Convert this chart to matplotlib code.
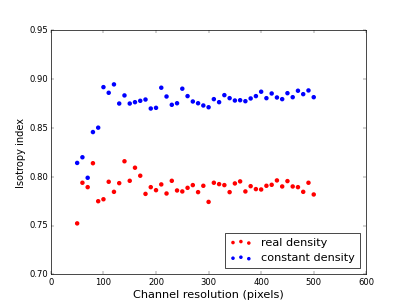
import matplotlib
matplotlib.use("Agg")
import matplotlib.pyplot as plt

plt.style.use('classic')

resolution = list(range(50, 501, 10))

real_density = [0.7523, 0.7939, 0.7894, 0.8139, 0.7750, 0.7770, 0.7949, 0.7846, 0.7935, 0.8159,
                0.7959, 0.8093, 0.8011, 0.7825, 0.7894, 0.7863, 0.7922, 0.7829, 0.7959, 0.7860,
                0.7850, 0.7887, 0.7915, 0.7843, 0.7908, 0.7743, 0.7939, 0.7925, 0.7915, 0.7843,
                0.7932, 0.7953, 0.7850, 0.7904, 0.7874, 0.7870, 0.7908, 0.7918, 0.7963, 0.7901,
                0.7956, 0.7901, 0.7894, 0.7846, 0.7939, 0.7819]

constant_density = [0.8142, 0.8200, 0.7990, 0.8458, 0.8503, 0.8918, 0.8860, 0.8946, 0.8750, 0.8833,
                    0.8750, 0.8764, 0.8778, 0.8791, 0.8699, 0.8706, 0.8912, 0.8822, 0.8737, 0.8753,
                    0.8902, 0.8826, 0.8771, 0.8753, 0.8730, 0.8712, 0.8795, 0.8764, 0.8836, 0.8805,
                    0.8781, 0.8784, 0.8774, 0.8802, 0.8826, 0.8871, 0.8805, 0.8853, 0.8812, 0.8795,
                    0.8856, 0.8815, 0.8881, 0.8846, 0.8884, 0.8815]

fig = plt.figure(figsize=(8, 6), dpi=407/8)
ax = fig.add_subplot(111)
ax.scatter(resolution, real_density, s=40, c='r', edgecolors='none', label='real density')
ax.scatter(resolution, constant_density, s=40, c='b', edgecolors='none', label='constant density')
ax.set_xlim(0, 600)
ax.set_ylim(0.70, 0.95)
ax.set_xlabel('Channel resolution (pixels)', fontsize=16)
ax.set_ylabel('Isotropy index', fontsize=14)
ax.legend(loc='lower right', scatterpoints=3, fontsize=16, handlelength=2.0,
          borderaxespad=0.6, markerscale=0.8)
fig.savefig('out.png', dpi=407/8)
